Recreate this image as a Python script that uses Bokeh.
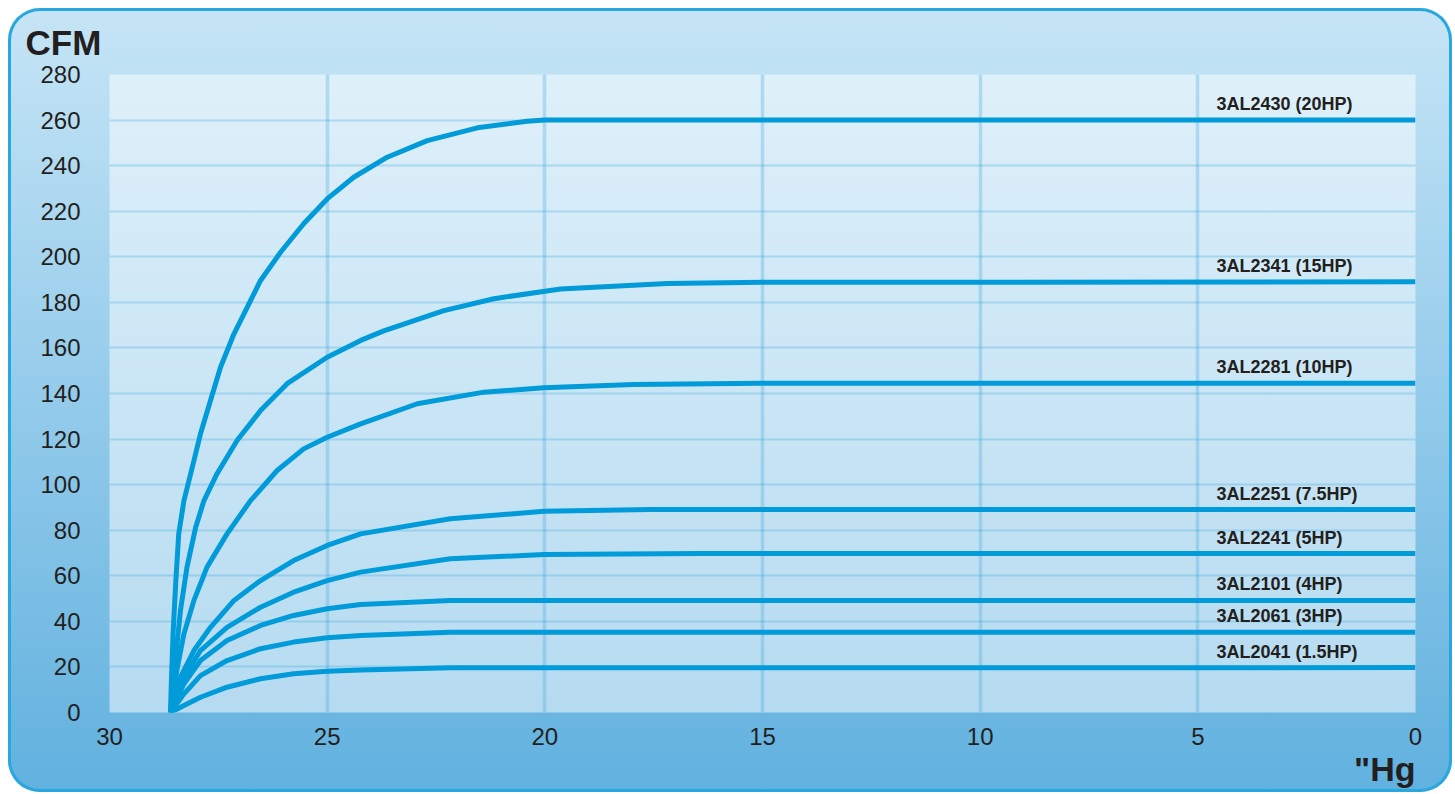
from bokeh.plotting import figure
from bokeh.models import Range1d, FixedTicker, Title, ColumnDataSource
from bokeh.core.properties import value
from bokeh.embed import file_html
from bokeh.resources import INLINE

# ---- data ("Hg vs CFM) ----
hg_20 = [28.60, 28.58, 28.54, 28.48, 28.41, 28.29, 28.06, 27.91, 27.68, 27.45, 27.14, 26.76, 26.53,
         26.07, 25.54, 25.0, 24.39, 23.62, 22.70, 21.55, 20.41, 20.0, 0]
cfm_20 = [0, 12.6, 34.5, 56.5, 78.4, 93.0, 110.6, 122.3, 136.9, 151.5, 166.2, 180.8, 189.6,
          202.0, 214.5, 225.4, 234.9, 243.7, 251.0, 256.6, 259.5, 260, 260]

hg_15 = [28.60, 28.55, 28.48, 28.37, 28.22, 28.02, 27.83, 27.53, 27.07, 26.53, 25.92, 25.0, 24.23,
         23.70, 22.32, 21.17, 19.64, 17.19, 15.0, 0]
cfm_15 = [0, 8.2, 24.3, 44.8, 63.8, 81.3, 93.0, 104.8, 119.4, 132.5, 144.3, 155.9, 163.3,
          167.5, 176.4, 181.6, 185.9, 188.3, 188.8, 189]

hg_10 = [28.60, 28.54, 28.44, 28.29, 28.06, 27.76, 27.30, 26.76, 26.15, 25.54, 25.0, 24.23, 22.93,
         21.40, 20.02, 17.96, 15.05, 0]
cfm_10 = [0, 8.2, 19.9, 34.5, 49.2, 63.8, 78.4, 93.0, 106.2, 115.7, 120.8, 126.7, 135.5,
          140.6, 142.5, 143.9, 144.5, 144.5]

hg_75 = [28.60, 28.52, 28.37, 28.06, 27.68, 27.14, 26.53, 25.77, 25.0, 24.23, 22.17, 20.02, 17.57, 0]
cfm_75 = [0, 6.7, 15.5, 27.2, 37.4, 49.2, 57.9, 66.7, 73.3, 78.4, 85.0, 88.3, 89.1, 89.1]

hg_5 = [28.60, 28.48, 28.29, 27.91, 27.30, 26.53, 25.77, 25.0, 24.23, 22.17, 20.02, 16.42, 0]
cfm_5 = [0, 6.7, 15.5, 27.2, 37.4, 46.2, 52.8, 57.9, 61.6, 67.5, 69.3, 69.8, 69.8]

hg_4 = [28.60, 28.29, 27.91, 27.30, 26.53, 25.77, 25.0, 24.23, 22.17, 0]
cfm_4 = [0, 12.6, 22.8, 31.6, 38.2, 42.6, 45.5, 47.4, 49.2, 49.2]

hg_3 = [28.60, 28.29, 27.91, 27.30, 26.53, 25.77, 25.0, 24.23, 22.17, 0]
cfm_3 = [0, 8.2, 16.2, 22.8, 28.0, 30.9, 32.8, 33.8, 35.2, 35.2]

hg_15hp = [28.60, 28.29, 27.91, 27.30, 26.53, 25.77, 25.0, 24.23, 22.17, 0]
cfm_15hp = [0, 3.1, 6.7, 11.1, 14.8, 17.0, 18.1, 18.7, 19.6, 19.7]

series_x = [hg_20, hg_15, hg_10, hg_75, hg_5, hg_4, hg_3, hg_15hp]
series_y = [cfm_20, cfm_15, cfm_10, cfm_75, cfm_5, cfm_4, cfm_3, cfm_15hp]
model_labels = ["3AL2430 (20HP)", "3AL2341 (15HP)", "3AL2281 (10HP)", "3AL2251 (7.5HP)",
                "3AL2241 (5HP)", "3AL2101 (4HP)", "3AL2061 (3HP)", "3AL2041 (1.5HP)"]

x_ticks = [30, 25, 20, 15, 10, 5, 0]
y_ticks = list(range(0, 281, 20))

FONT = "Liberation Sans"
INK = "#231f20"

p = figure(width=1444, height=784, output_backend="svg", toolbar_location=None,
           x_range=Range1d(30, 0), y_range=Range1d(0, 280),
           min_border_left=101, min_border_right=37, min_border_top=66, min_border_bottom=80)
p.border_fill_color = None
p.outline_line_color = None
p.background_fill_color = "white"
p.background_fill_alpha = 0.5
p.styles = {
    "background": "linear-gradient(to bottom, #c6e5f6 0%, #61b1df 100%)",
    "border-radius": "32px",
    "box-shadow": "inset 0 0 0 3px #29a8e0",
    "margin-left": "8px",
    "margin-top": "8px",
}

# title "CFM"
p.title.text = "CFM"
p.title.text_font = FONT
p.title.text_font_size = "35px"
p.title.text_font_style = "bold"
p.title.text_color = INK
p.title.align = "left"
p.title.offset = -84
p.title.standoff = 25

p.add_layout(Title(text='"Hg', align="right", text_font=FONT, text_font_size="34px",
                   text_font_style="bold", text_color=INK, standoff=0), "below")

for ax in (p.xaxis, p.yaxis):
    ax.axis_line_color = None
    ax.major_tick_line_color = None
    ax.minor_tick_line_color = None
    ax.major_label_text_font = FONT
    ax.major_label_text_font_size = "24px"
    ax.major_label_text_color = INK
p.xaxis.ticker = FixedTicker(ticks=x_ticks)
p.yaxis.ticker = FixedTicker(ticks=y_ticks)
p.xaxis.major_label_standoff = 9
p.yaxis.major_label_standoff = 23

p.xgrid.ticker = FixedTicker(ticks=x_ticks[1:-1])
p.ygrid.ticker = FixedTicker(ticks=y_ticks[1:-1])
p.xgrid.grid_line_color = "#3fa4dc"
p.xgrid.grid_line_alpha = 0.3
p.xgrid.grid_line_width = 3.5
p.ygrid.grid_line_color = "#3fa4dc"
p.ygrid.grid_line_alpha = 0.3
p.ygrid.grid_line_width = 2

for xs, ys in zip(series_x, series_y):
    p.line(xs, ys, line_width=5, line_color="#009bd8", line_join="round")

end_vals = [ys[-1] for ys in series_y]
lab_src = ColumnDataSource(dict(x=[4.57] * len(end_vals), y=[v + 7 for v in end_vals], t=model_labels))
p.text(x="x", y="y", text="t", source=lab_src, text_font=value(FONT), text_font_style="bold",
       text_font_size="18px", text_baseline="middle", text_align="left", text_color=INK)

open("out.html", "w").write(file_html(p, INLINE))
